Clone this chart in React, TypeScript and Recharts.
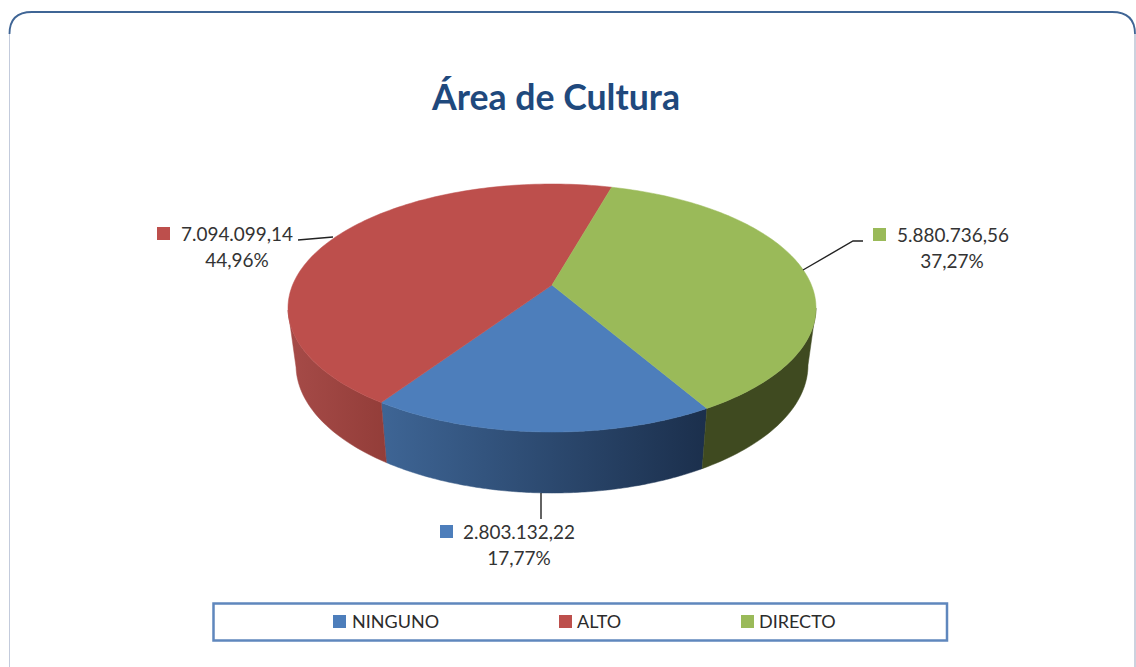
import React from "react";
import { PieChart, Pie, Legend } from "recharts";

const categories = ["NINGUNO", "ALTO", "DIRECTO"];
const values = [2803132.22, 7094099.14, 5880736.56];
const topColors = ["#4d7ebb", "#bd4f4c", "#9aba59"];
const sideFrom = ["#3e6595", "#a64b48", "#3f4a20"];
const sideTo = ["#1b2f4c", "#933d39", "#3f4a20"];
const title = "Área de Cultura";

const WIDTH = 1136;
const HEIGHT = 667;
const FONT = "Lato, 'Open Sans', sans-serif";

// Perspective projection of the flat pie onto the tilted disc
const CX = 552;
const CY = 308;
const RX = 264;
const RY = 124;
const TILT = 0.185;
const BOTTOM_CY = 365;
const BOTTOM_RX = 256;
const BOTTOM_RY = 128;

const data = categories.map((name, i) => ({ name, value: values[i], fill: topColors[i], index: i }));

const project = (deg: number) => {
  const t = (deg * Math.PI) / 180;
  const x = Math.cos(t);
  const y = Math.sin(t);
  const w = 1 + TILT * y;
  return { X: (x * Math.sqrt(1 - TILT * TILT)) / w, Y: (y + TILT) / w };
};

const topPoint = (cx: number, cy: number, r: number, deg: number) => {
  const { X, Y } = project(deg);
  return [cx + r * X, cy - (r * RY * Y) / RX];
};
const bottomPoint = (cx: number, r: number, deg: number) => {
  const { X, Y } = project(deg);
  const k = r / RX;
  return [cx + BOTTOM_RX * k * X, BOTTOM_CY - BOTTOM_RY * k * Y];
};

const fmt = (v: number) => {
  const [a, b] = v.toFixed(2).split(".");
  return a.replace(/\B(?=(\d{3})+(?!\d))/g, ".") + "," + b;
};
const fmtPct = (p: number) => (p * 100).toFixed(2).replace(".", ",") + "%";

const SliceShape = (props: any) => {
  const { cx, cy, outerRadius, startAngle, endAngle, fill } = props;
  const idx = topColors.indexOf(fill);
  const steps = 120;
  const topPts: number[][] = [];
  const sideAngles: number[] = [];
  for (let i = 0; i <= steps; i++) {
    const a = startAngle + ((endAngle - startAngle) * i) / steps;
    topPts.push(topPoint(cx, cy, outerRadius, a));
    if (project(a).Y <= 0) sideAngles.push(a);
  }
  const apex = [cx, cy - RY * TILT];
  const topPath =
    `M${apex[0]},${apex[1]} ` + topPts.map((p) => `L${p[0].toFixed(2)},${p[1].toFixed(2)}`).join(" ") + " Z";
  const upper = sideAngles.map((a) => topPoint(cx, cy, outerRadius, a));
  const lower = sideAngles.map((a) => bottomPoint(cx, outerRadius, a)).reverse();
  const sidePath = upper.concat(lower).map((p, i) => `${i ? "L" : "M"}${p[0].toFixed(2)},${p[1].toFixed(2)}`).join(" ") + " Z";
  const xs = upper.concat(lower).map((p) => p[0]);
  const gid = `side-${idx}`;
  return (
    <g>
      <defs>
        <linearGradient id={gid} gradientUnits="userSpaceOnUse" x1={Math.min(...xs)} x2={Math.max(...xs)} y1={0} y2={0}>
          <stop offset="0%" stopColor={sideFrom[idx]} />
          <stop offset="100%" stopColor={sideTo[idx]} />
        </linearGradient>
      </defs>
      {upper.length > 1 && <path d={sidePath} fill={`url(#${gid})`} stroke={`url(#${gid})`} strokeWidth={0.5} />}
      <path d={topPath} fill={fill} stroke={fill} strokeWidth={0.5} />
    </g>
  );
};

// Label layout, by slice index
const labelLayout = [
  { swatchX: 440, swatchY: 525, valueX: 463, pctX: 519, y: 539, line: "M541,493 L541,519" },
  { swatchX: 157, swatchY: 227, valueX: 181, pctX: 237, y: 241, line: "M298,240 L333,237" },
  { swatchX: 873, swatchY: 228, valueX: 897, pctX: 952, y: 242, line: "M803,270 L853,241 L863,241" },
];

const SliceLabel = (props: any) => {
  const { index, value, percent, fill } = props;
  const l = labelLayout[index];
  return (
    <g>
      <path d={l.line} fill="none" stroke="#222" strokeWidth={1.4} />
      <rect x={l.swatchX} y={l.swatchY} width={13} height={13} fill={fill} />
      <text x={l.valueX} y={l.y} fontFamily={FONT} fontSize={19} fill="#333" textLength={112} lengthAdjust="spacingAndGlyphs">
        {fmt(value)}
      </text>
      <text x={l.pctX} y={l.y + 26} fontFamily={FONT} fontSize={19} fill="#333" textAnchor="middle">
        {fmtPct(percent)}
      </text>
    </g>
  );
};

const legendSwatchX = [333, 559, 741];
const legendTextX = [352, 577, 759];

const LegendBox = ({ payload }: any) => (
  <svg width={WIDTH} height={70} style={{ display: "block" }}>
    <rect x={213.5} y={3.5} width={733.5} height={37} fill="#fff" stroke="#5f87bd" strokeWidth={2.5} />
    {(payload || []).map((entry: any, i: number) => (
      <g key={entry.value}>
        <rect x={legendSwatchX[i]} y={15} width={13} height={13} fill={entry.color} />
        <text x={legendTextX[i]} y={27.5} fontFamily={FONT} fontSize={18} fill="#2b2b2b">
          {entry.value}
        </text>
      </g>
    ))}
  </svg>
);

export default function App() {
  return (
    <div style={{ position: "absolute", left: 0, top: 0, width: WIDTH, height: HEIGHT, background: "#fff", overflow: "hidden" }}>
      <svg width={WIDTH} height={HEIGHT} style={{ position: "absolute", left: 0, top: 0 }}>
        <path d="M9.5,667 L9.5,34" fill="none" stroke="#c3cbdc" strokeWidth={1} />
        <path d="M1135,667 L1135,34" fill="none" stroke="#aab4c8" strokeWidth={1.2} />
        <path d="M9.5,34 Q9.5,12 32,12 L1112,12 Q1135,12 1135,34" fill="none" stroke="#3f6595" strokeWidth={1.8} />
        <text x={556} y={110} textAnchor="middle" fontFamily={FONT} fontWeight={700} fontSize={36} fill="#1f497d" textLength={248} lengthAdjust="spacingAndGlyphs">
          {title}
        </text>
      </svg>
      <div style={{ position: "absolute", left: 0, top: 0 }}>
        <PieChart width={WIDTH} height={HEIGHT} margin={{ top: 0, right: 0, bottom: 0, left: 0 }}>
          <Pie
            data={data}
            dataKey="value"
            nameKey="name"
            cx={CX}
            cy={CY}
            innerRadius={0}
            outerRadius={RX}
            startAngle={300.1}
            endAngle={-59.9}
            stroke="none"
            isAnimationActive={false}
            shape={SliceShape}
            label={SliceLabel}
            labelLine={false}
          />
          <Legend
            content={LegendBox}
            itemSorter={null}
            wrapperStyle={{ position: "absolute", left: 0, top: 600, bottom: "auto", width: WIDTH, height: 70 }}
          />
        </PieChart>
      </div>
    </div>
  );
}
